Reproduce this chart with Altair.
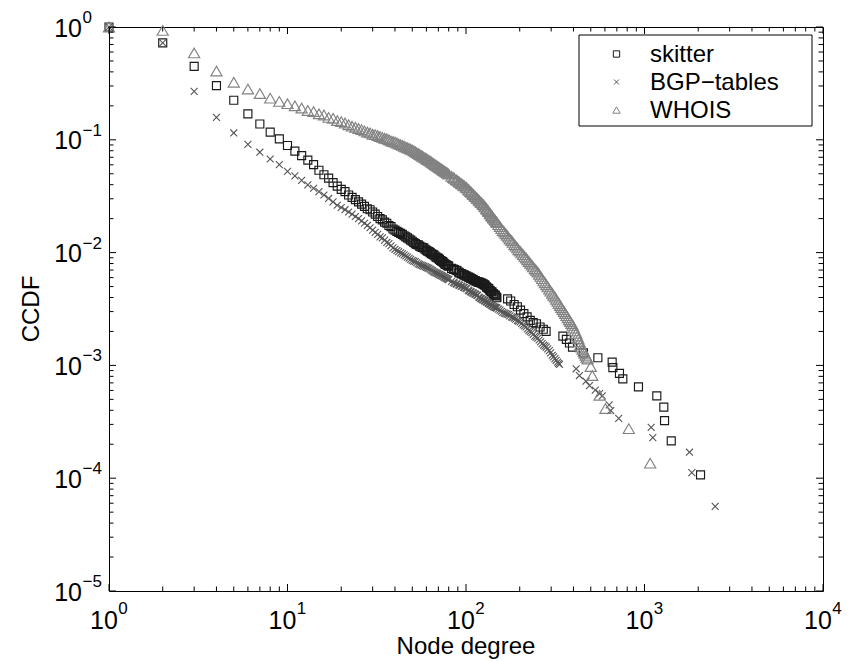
import altair as alt
import pandas as pd

W, H = 714, 564
FONT = "Liberation Sans"

# ---------------- data ----------------
dense_deg = [1, 2, 3, 4, 5, 6, 7, 8, 9, 10, 11, 12, 13, 14, 15, 16, 17, 18, 19, 20,
             21, 22, 23, 24, 25, 26, 27, 28, 29, 30, 31, 32, 33, 34, 35, 36, 37, 38, 39, 40,
             42, 44, 46, 48, 50, 52, 54, 56, 58, 60, 62, 64, 66, 68, 70, 72, 74, 76, 78, 80,
             83, 86, 89, 92, 95, 98, 101, 104, 107, 110, 113, 116, 119, 122, 125, 128, 131,
             134, 137, 140, 143, 146, 149]
mid_deg = [41, 43, 45, 47, 49, 51, 53, 55, 57, 59, 61, 63, 65, 67, 69, 71, 73, 75, 77, 79,
           85, 88, 91, 94, 97, 100, 103, 106, 109, 112, 115, 118, 121, 124, 127, 130, 133,
           136, 139, 142, 145, 148]

skitter_dense = [1.0, 0.724, 0.447, 0.302, 0.224, 0.170, 0.138, 0.117, 0.102, 0.0891,
                 0.0794, 0.0724, 0.0661, 0.0603, 0.0537, 0.0490, 0.0457, 0.0417, 0.0389, 0.0363,
                 0.0347, 0.0324, 0.0309, 0.0295, 0.0282, 0.0269, 0.0257, 0.0245, 0.0240, 0.0229,
                 0.0219, 0.0209, 0.0200, 0.0195, 0.0186, 0.0182, 0.0174, 0.0170, 0.0162, 0.0158,
                 0.0151, 0.0145, 0.0138, 0.0132, 0.0126, 0.0120, 0.0117, 0.0112, 0.0110, 0.0105,
                 0.0102, 0.00977, 0.00955, 0.00912, 0.00891, 0.00851, 0.00832, 0.00794, 0.00776, 0.00759,
                 0.00724, 0.00708, 0.00692, 0.00661, 0.00646, 0.00631, 0.00617, 0.00603, 0.00589, 0.00575,
                 0.00562, 0.00550, 0.00545, 0.00537, 0.00525, 0.00513, 0.00490, 0.00479, 0.00457, 0.00447,
                 0.00427, 0.00417, 0.00398]
skitter_mid = [0.0154, 0.0148, 0.0141, 0.0135, 0.0129, 0.0123, 0.0118, 0.0114, 0.0111, 0.0107,
               0.0103, 0.00998, 0.00966, 0.00933, 0.00901, 0.00871, 0.00841, 0.00813, 0.00785, 0.00767,
               0.00713, 0.00697, 0.00671, 0.00651, 0.00636, 0.00622, 0.00608, 0.00594, 0.00580, 0.00566,
               0.00554, 0.00547, 0.00540, 0.00529, 0.00517, 0.00498, 0.00483, 0.00464, 0.00450, 0.00434,
               0.00420, 0.00404]
skitter_tail_deg = [171, 178, 186, 194, 202, 211, 220, 229, 238, 248, 260, 271, 281,
                    349, 365, 380, 395, 455, 548, 659, 665, 724, 756, 925, 1172, 1283, 1295, 1412, 2060]
skitter_tail = [0.00389, 0.00372, 0.00347, 0.00331, 0.00309, 0.00288, 0.00269, 0.00251, 0.00240,
                0.00234, 0.00219, 0.00209, 0.00200,
                0.00182, 0.00170, 0.00158, 0.00145, 0.00129, 0.00117, 0.00107, 0.000955, 0.000851,
                0.000759, 0.000646, 0.000537, 0.000427, 0.000324, 0.000214, 0.000107]

bgp_dense = [1.0, 0.724, 0.269, 0.158, 0.115, 0.0912, 0.0776, 0.0676, 0.0603, 0.0525,
             0.0479, 0.0437, 0.0398, 0.0372, 0.0347, 0.0324, 0.0302, 0.0282, 0.0263, 0.0251,
             0.0240, 0.0229, 0.0219, 0.0209, 0.0200, 0.0191, 0.0182, 0.0174, 0.0166, 0.0158,
             0.0151, 0.0145, 0.0138, 0.0135, 0.0129, 0.0123, 0.0120, 0.0115, 0.0110, 0.0107,
             0.0102, 0.00977, 0.00933, 0.00891, 0.00851, 0.00832, 0.00794, 0.00776, 0.00759, 0.00741,
             0.00724, 0.00700, 0.00676, 0.00661, 0.00646, 0.00631, 0.00617, 0.00603, 0.00589, 0.00575,
             0.00556, 0.00537, 0.00525, 0.00513, 0.00501, 0.00490, 0.00479, 0.00457, 0.00447, 0.00437,
             0.00427, 0.00417, 0.00398, 0.00389, 0.00380, 0.00372, 0.00363, 0.00355, 0.00347, 0.00339,
             0.00331, 0.00327, 0.00322]
bgp_mid = [0.0104, 0.00995, 0.00955, 0.00912, 0.00871, 0.00841, 0.00813, 0.00785, 0.00767, 0.00750,
           0.00732, 0.00712, 0.00688, 0.00668, 0.00653, 0.00638, 0.00624, 0.00610, 0.00596, 0.00582,
           0.00543, 0.00529, 0.00517, 0.00505, 0.00494, 0.00483, 0.00464, 0.00450, 0.00440, 0.00430,
           0.00420, 0.00404, 0.00392, 0.00383, 0.00375, 0.00366, 0.00358, 0.00350, 0.00342, 0.00334,
           0.00328, 0.00324]
bgp_tail_deg = [152, 155, 158, 161, 164, 167, 170, 173, 176, 180, 183, 187, 190, 194, 197, 201,
                205, 209, 213, 217, 221, 225, 229, 234, 238, 243, 247, 252, 257, 262, 267, 272,
                277, 282, 287, 293, 298, 304, 309, 315, 320, 326, 330, 334,
                414, 432, 470, 492, 530, 560, 580, 634, 647, 717, 1090, 1113, 1786, 1841, 2489]
bgp_tail = [0.00315, 0.00309, 0.00302, 0.00295, 0.00291, 0.00288, 0.00285, 0.00282, 0.00275,
            0.00269, 0.00266, 0.00263, 0.00257, 0.00251, 0.00247, 0.00243, 0.00236, 0.00229,
            0.00224, 0.00219, 0.00211, 0.00204, 0.00199, 0.00195, 0.00188, 0.00182, 0.00178,
            0.00174, 0.00168, 0.00162, 0.00156, 0.00151, 0.00148, 0.00145, 0.00140, 0.00135,
            0.00129, 0.00123, 0.00119, 0.00115, 0.00111, 0.00107, 0.00104, 0.00102,
            0.000933, 0.000813, 0.000724, 0.000661, 0.000603, 0.000562, 0.000537, 0.000447,
            0.000398, 0.000339, 0.000282, 0.000229, 0.000170, 0.000112, 0.0000562]

whois_dense = [1.0, 0.933, 0.589, 0.407, 0.324, 0.282, 0.257, 0.234, 0.219, 0.209,
               0.200, 0.191, 0.182, 0.178, 0.170, 0.166, 0.158, 0.155, 0.148, 0.145,
               0.141, 0.136, 0.132, 0.129, 0.126, 0.123, 0.120, 0.117, 0.115, 0.112,
               0.111, 0.109, 0.107, 0.105, 0.103, 0.102, 0.100, 0.0977, 0.0966, 0.0955,
               0.0920, 0.0891, 0.0863, 0.0838, 0.0813, 0.0783, 0.0755, 0.0728, 0.0703, 0.0679,
               0.0658, 0.0635, 0.0614, 0.0594, 0.0575, 0.0558, 0.0542, 0.0526, 0.0512, 0.0497,
               0.0475, 0.0456, 0.0437, 0.0420, 0.0404, 0.0390, 0.0375, 0.0357, 0.0342, 0.0327,
               0.0313, 0.0301, 0.0287, 0.0277, 0.0266, 0.0254, 0.0242, 0.0231, 0.0220, 0.0210,
               0.0201, 0.0193, 0.0185]
whois_mid = [0.0937, 0.0905, 0.0877, 0.0850, 0.0825, 0.0798, 0.0769, 0.0741, 0.0715, 0.0691,
             0.0668, 0.0646, 0.0624, 0.0604, 0.0584, 0.0566, 0.0550, 0.0534, 0.0519, 0.0504,
             0.0462, 0.0443, 0.0426, 0.0409, 0.0395, 0.0380, 0.0363, 0.0347, 0.0332, 0.0318,
             0.0305, 0.0292, 0.0280, 0.0270, 0.0258, 0.0246, 0.0235, 0.0224, 0.0213, 0.0204,
             0.0196, 0.0188]
whois_tail_deg = [152, 155, 158, 161, 164, 167, 170, 173, 176, 180, 183, 187, 190, 194, 197, 201,
                  205, 209, 213, 217, 221, 225, 229, 234, 238, 243, 247, 252, 257, 262, 267, 272,
                  277, 282, 287, 293, 298, 304, 309, 315, 320, 326, 331, 337, 342, 348, 354, 360,
                  366, 372, 378, 384, 390, 396, 402, 408, 414, 420, 426, 432, 438, 444, 450, 456,
                  462, 468, 474, 480,
                  500, 510, 560, 604, 817, 1076]
whois_tail = [0.0177, 0.0170, 0.0163, 0.0157, 0.0152, 0.0147, 0.0142, 0.0137, 0.0132, 0.0128,
              0.0123, 0.0118, 0.0114, 0.0110, 0.0106, 0.0103, 0.00994, 0.00959, 0.00926, 0.00895,
              0.00864, 0.00834, 0.00803, 0.00774, 0.00746, 0.00719, 0.00696, 0.00673, 0.00643,
              0.00615, 0.00587, 0.00561, 0.00540, 0.00519, 0.00496, 0.00474, 0.00455, 0.00436,
              0.00419, 0.00403, 0.00386, 0.00369, 0.00354, 0.00339, 0.00326, 0.00313, 0.00300,
              0.00288, 0.00276, 0.00264, 0.00254, 0.00245, 0.00235, 0.00226, 0.00214, 0.00202,
              0.00192, 0.00182, 0.00172, 0.00162, 0.00153, 0.00145, 0.00139, 0.00133, 0.00128,
              0.00123, 0.00118, 0.00114,
              0.000977, 0.000813, 0.000543, 0.000414, 0.000275, 0.000136]

series_names = ["skitter", "BGP\u2212tables", "WHOIS"]

x_major = [1, 10, 100, 1000, 10000]
x_exp = ["0", "1", "2", "3", "4"]
y_major = [1e-5, 1e-4, 1e-3, 1e-2, 1e-1, 1]
y_exp = ["\u22125", "\u22124", "\u22123", "\u22122", "\u22121", "0"]
x_minor = [m * 10 ** k for k in range(0, 4) for m in range(2, 10)]
y_minor = [m * 10.0 ** k for k in range(-5, 0) for m in range(2, 10)]

# ---------------- chart ----------------
xs = alt.Scale(type="log", domain=[1, 10000], nice=False)
ys = alt.Scale(type="log", domain=[1e-5, 1], nice=False)


def pts(deg, val, shape, size, color, sw):
    df = pd.DataFrame({"degree": deg, "ccdf": val})
    return alt.Chart(df).mark_point(shape=shape, size=size, filled=False, color=color,
                                    strokeWidth=sw, opacity=1).encode(
        x=alt.X("degree:Q", scale=xs, axis=None),
        y=alt.Y("ccdf:Q", scale=ys, axis=None))


XSHAPE = "M-1,-1L1,1M-1,1L1,-1"
C_SQ, C_X, C_TR = "#1a1a1a", "#555555", "#828282"

skitter = pts(dense_deg + mid_deg + skitter_tail_deg, skitter_dense + skitter_mid + skitter_tail,
              "square", 64, C_SQ, 1.15)
bgp = pts(dense_deg + mid_deg + bgp_tail_deg, bgp_dense + bgp_mid + bgp_tail,
          XSHAPE, 48, C_X, 1.1)
whois = pts(dense_deg + mid_deg + whois_tail_deg, whois_dense + whois_mid + whois_tail,
            "triangle-up", 125, C_TR, 1.15)


def xticks(vals, L):
    df = pd.DataFrame({"v": vals})
    base = alt.Chart(df).mark_rule(color="black", strokeWidth=1)
    enc_x = alt.X("v:Q", scale=xs, axis=None)
    return (base.encode(x=enc_x, y=alt.value(H), y2=alt.value(H - L)) +
            base.encode(x=enc_x, y=alt.value(0), y2=alt.value(L)))


def yticks(vals, L):
    df = pd.DataFrame({"v": vals})
    base = alt.Chart(df).mark_rule(color="black", strokeWidth=1)
    enc_y = alt.Y("v:Q", scale=ys, axis=None)
    return (base.encode(y=enc_y, x=alt.value(0), x2=alt.value(L)) +
            base.encode(y=enc_y, x=alt.value(W), x2=alt.value(W - L)))


ticks = xticks(x_major, 7) + xticks(x_minor, 4.5) + yticks(y_major, 7) + yticks(y_minor, 4.5)

xl = pd.DataFrame({"v": x_major, "e": x_exp})
x_base = alt.Chart(xl).mark_text(text="10", align="right", baseline="alphabetic", dx=8.8,
                                 font=FONT, fontSize=25, color="black").encode(
    x=alt.X("v:Q", scale=xs, axis=None), y=alt.value(H + 37.5))
x_sup = alt.Chart(xl).mark_text(align="left", baseline="alphabetic", dx=9.3,
                                font=FONT, fontSize=17, color="black").encode(
    x=alt.X("v:Q", scale=xs, axis=None), y=alt.value(H + 22.5), text="e:N")

yl = pd.DataFrame({"v": y_major, "e": y_exp})
y_base = alt.Chart(yl).mark_text(text="10", align="right", baseline="alphabetic", dy=9.5,
                                 font=FONT, fontSize=25, color="black").encode(
    y=alt.Y("v:Q", scale=ys, axis=None), x=alt.value(-27))
y_sup = alt.Chart(yl).mark_text(align="left", baseline="alphabetic", dy=-4,
                                font=FONT, fontSize=17, color="black").encode(
    y=alt.Y("v:Q", scale=ys, axis=None), x=alt.value(-26.5), text="e:N")

xtitle = alt.Chart(pd.DataFrame({"t": ["Node degree"]})).mark_text(
    align="center", baseline="alphabetic", font=FONT, fontSize=24, color="black").encode(
    text="t:N", x=alt.value(W / 2), y=alt.value(H + 63))
ytitle = alt.Chart(pd.DataFrame({"t": ["CCDF"]})).mark_text(
    align="center", baseline="middle", angle=270, font=FONT, fontSize=24, color="black").encode(
    text="t:N", x=alt.value(-77), y=alt.value(H / 2))

# legend
leg_box = alt.Chart(pd.DataFrame({"a": [0]})).mark_rect(
    fill="white", stroke="black", strokeWidth=1).encode(
    x=alt.value(470), x2=alt.value(703), y=alt.value(8), y2=alt.value(99))
leg_y = [27, 55, 83]
leg_shapes = ["square", XSHAPE, "triangle-up"]
leg_sizes = [40, 25, 55]
leg_colors = [C_SQ, C_X, C_TR]
leg_layers = []
for name, ly, shp, sz, col in zip(series_names, leg_y, leg_shapes, leg_sizes, leg_colors):
    d = pd.DataFrame({"t": [name]})
    leg_layers.append(alt.Chart(d).mark_point(shape=shp, size=sz, filled=False, color=col,
                                              strokeWidth=1, opacity=1).encode(
        x=alt.value(507.5), y=alt.value(ly)))
    leg_layers.append(alt.Chart(d).mark_text(align="left", baseline="middle", font=FONT,
                                             fontSize=24, color="black").encode(
        text="t:N", x=alt.value(541), y=alt.value(ly + 1)))

chart = alt.layer(
    skitter, bgp, whois, ticks, x_base, x_sup, y_base, y_sup, xtitle, ytitle,
    leg_box, *leg_layers
).properties(
    width=W, height=H,
    autosize=alt.AutoSizeParams(type="none"),
    padding={"left": 109, "top": 27, "right": 27, "bottom": 70},
    background="white",
).configure_view(stroke="black", strokeWidth=1)

chart.save("out.html", embed_options={"renderer": "svg", "actions": False})
